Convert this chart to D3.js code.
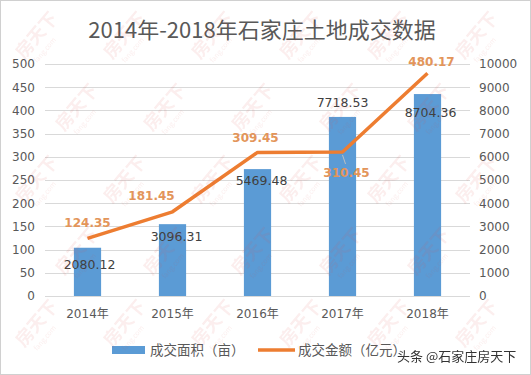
<!DOCTYPE html>
<html>
<head>
<meta charset="utf-8">
<script src="https://cdn.jsdelivr.net/npm/d3@7"></script>
<style>
    body { margin: 0; background: #fff; }
    svg { display: block; }
</style>
</head>
<body>
<div id="chart"></div>
<script>
// chart data
const years = ['2014年', '2015年', '2016年', '2017年', '2018年'];
const areaValues = [2080.12, 3096.31, 5469.48, 7718.53, 8704.36];   // 成交面积（亩）, right axis
const amountValues = [124.35, 181.45, 309.45, 310.45, 480.17];      // 成交金额（亿元）, left axis
const leftTicks = [0, 50, 100, 150, 200, 250, 300, 350, 400, 450, 500];
const rightTicks = [0, 1000, 2000, 3000, 4000, 5000, 6000, 7000, 8000, 9000, 10000];

const width = 531;
const height = 375;
const plot = { left: 45, right: 470, top: 64, bottom: 296 };

const svg = d3.select('#chart')
    .append('svg')
    .attr('width', width)
    .attr('height', height);

// outer frame
svg.append('rect')
    .attr('x', 0.5).attr('y', 0.5)
    .attr('width', width - 1).attr('height', height - 1)
    .attr('fill', '#fff')
    .attr('stroke', '#d0d0d0');

const x = d3.scaleBand()
    .domain(years)
    .range([plot.left, plot.right])
    .paddingInner(0.68)
    .paddingOuter(0.34);

const yLeft = d3.scaleLinear().domain([0, 500]).range([plot.bottom, plot.top]);
const yRight = d3.scaleLinear().domain([0, 10000]).range([plot.bottom, plot.top]);

const tickFont = 'DejaVu Sans, "Noto Sans CJK SC", sans-serif';

// gridlines
svg.append('g')
    .selectAll('line')
    .data(leftTicks)
    .join('line')
    .attr('x1', plot.left).attr('x2', plot.right)
    .attr('y1', d => Math.round(yLeft(d)) + 0.5)
    .attr('y2', d => Math.round(yLeft(d)) + 0.5)
    .attr('stroke', '#d9d9d9');

// left axis
const leftAxis = svg.append('g')
    .attr('transform', `translate(${plot.left},0)`)
    .call(d3.axisLeft(yLeft).tickValues(leftTicks).tickFormat(d3.format('d')).tickSize(0).tickPadding(10));
leftAxis.select('.domain').remove();
leftAxis.selectAll('text').attr('fill', '#595959').style('font-family', tickFont).style('font-size', '12px');

// right axis
const rightAxis = svg.append('g')
    .attr('transform', `translate(${plot.right},0)`)
    .call(d3.axisRight(yRight).tickValues(rightTicks).tickFormat(d3.format('d')).tickSize(0).tickPadding(9));
rightAxis.select('.domain').remove();
rightAxis.selectAll('text').attr('fill', '#595959').style('font-family', tickFont).style('font-size', '12px');

// bottom axis
const bottomAxis = svg.append('g')
    .attr('transform', `translate(0,${plot.bottom})`)
    .call(d3.axisBottom(x).tickSize(0).tickPadding(13));
bottomAxis.select('.domain').remove();
bottomAxis.selectAll('text').attr('fill', '#595959').style('font-family', tickFont).style('font-size', '12px');

// bars
svg.append('g')
    .selectAll('rect')
    .data(areaValues)
    .join('rect')
    .attr('x', (d, i) => x(years[i]))
    .attr('y', d => yRight(d))
    .attr('width', x.bandwidth())
    .attr('height', d => yRight(0) - yRight(d))
    .attr('fill', '#5b9bd5');

// line
const line = d3.line()
    .x((d, i) => x(years[i]) + x.bandwidth() / 2)
    .y(d => yLeft(d));

svg.append('path')
    .datum(amountValues)
    .attr('d', line)
    .attr('fill', 'none')
    .attr('stroke', '#ed7d31')
    .attr('stroke-width', 3.5)
    .attr('stroke-linejoin', 'round');

// bar labels (Excel had some moved by hand)
const barLabelDx = [2, 4, 4, 0, 3];
const barLabelDy = [21, 17, 16, -10, 23];
svg.append('g')
    .selectAll('text')
    .data(areaValues)
    .join('text')
    .attr('x', (d, i) => x(years[i]) + x.bandwidth() / 2 + barLabelDx[i])
    .attr('y', (d, i) => yRight(d) + barLabelDy[i])
    .attr('text-anchor', 'middle')
    .attr('fill', '#404040')
    .style('font-family', tickFont)
    .style('font-size', '12.5px')
    .text(d => d.toFixed(2));

// line labels
const lineLabelDx = [0, -21, -2, 4, 4];
const lineLabelDy = [-11, -12, -10, 25, -7];
svg.append('g')
    .selectAll('text')
    .data(amountValues)
    .join('text')
    .attr('x', (d, i) => x(years[i]) + x.bandwidth() / 2 + lineLabelDx[i])
    .attr('y', (d, i) => yLeft(d) + lineLabelDy[i])
    .attr('text-anchor', 'middle')
    .attr('fill', '#e3955a')
    .style('font-family', tickFont)
    .style('font-size', '12px')
    .style('font-weight', 'bold')
    .text(d => d.toFixed(2));

// small leader line for the 2017 label
svg.append('line')
    .attr('x1', x(years[3]) + x.bandwidth() / 2)
    .attr('y1', yLeft(amountValues[3]) + 3)
    .attr('x2', x(years[3]) + x.bandwidth() / 2 + 3)
    .attr('y2', yLeft(amountValues[3]) + 12)
    .attr('stroke', '#bfbfbf');

// title
svg.append('text')
    .attr('x', 262)
    .attr('y', 38)
    .attr('text-anchor', 'middle')
    .attr('fill', '#595959')
    .style('font-family', '"Noto Sans CJK SC", sans-serif')
    .style('font-size', '22px')
    .text('2014年-2018年石家庄土地成交数据');

// legend
const legend = svg.append('g')
    .style('font-family', '"Noto Sans CJK SC", sans-serif')
    .style('font-size', '13.5px')
    .attr('fill', '#595959');
legend.append('rect')
    .attr('x', 112).attr('y', 346)
    .attr('width', 33).attr('height', 8)
    .attr('fill', '#5b9bd5');
legend.append('text').attr('x', 150).attr('y', 355).text('成交面积（亩）');
legend.append('line')
    .attr('x1', 258).attr('x2', 295)
    .attr('y1', 350).attr('y2', 350)
    .attr('stroke', '#ed7d31')
    .attr('stroke-width', 3.5);
legend.append('text').attr('x', 298).attr('y', 355).text('成交金额（亿元）');

// faint "房天下" watermark, kept inside the frame
const wm = svg.append('g')
    .attr('fill', '#d9534f')
    .attr('opacity', 0.1)
    .style('font-family', '"Noto Sans CJK SC", sans-serif');
for (let r = 0; r < 5; r++) {
    for (let c = 0; c < 6; c++) {
        const wx = 24 + c * 88 + (r % 2) * 40;
        const wy = 60 + r * 72;
        if (wx > 470) continue;
        const g = wm.append('g').attr('transform', `translate(${wx},${wy}) rotate(-50)`);
        g.append('text').style('font-size', '18px').style('font-weight', 'bold').text('房天下');
        g.append('text').attr('x', 6).attr('y', 12).style('font-size', '7px').text('fang.com');
    }
}

// source tag
svg.append('text')
    .attr('x', 397)
    .attr('y', 361)
    .attr('fill', '#333')
    .attr('stroke', '#fff')
    .attr('stroke-width', 2.5)
    .attr('paint-order', 'stroke')
    .style('font-family', '"Noto Sans CJK SC", sans-serif')
    .style('font-size', '13px')
    .text('头条 @石家庄房天下');
</script>
</body>
</html>
